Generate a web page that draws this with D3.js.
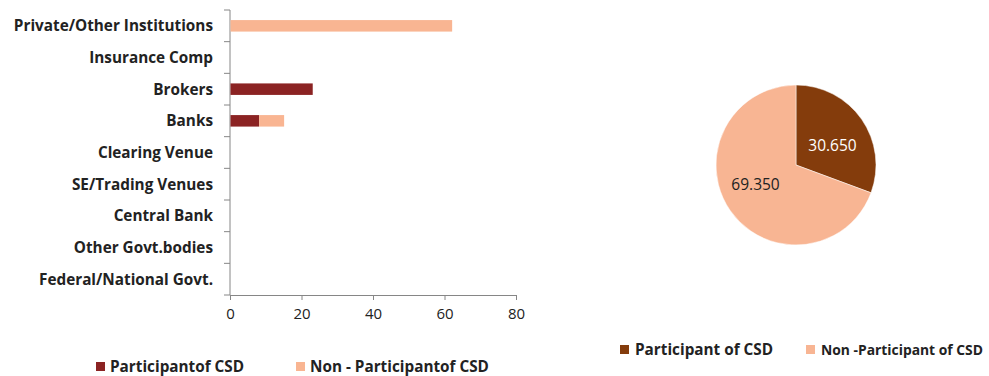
<!DOCTYPE html>
<html><head><meta charset="utf-8">
<script src="https://cdn.jsdelivr.net/npm/d3@7"></script>
<style>body{margin:0;background:#fff}svg{display:block;font-family:"Open Sans",sans-serif}</style>
</head><body><svg id="c" width="989" height="376"></svg>
<script>
const categories = ["Private/Other Institutions","Insurance Comp","Brokers","Banks","Clearing Venue","SE/Trading Venues","Central Bank","Other Govt.bodies","Federal/National Govt."];
const participant = [0,0,23,8,0,0,0,0,0];
const nonParticipant = [62,0,0,7,0,0,0,0,0];
const barSeries = ["Participantof CSD","Non - Participantof CSD"];
const xTicks = [0,20,40,60,80];
const pieLabels = ["Participant of CSD","Non -Participant of CSD"];
const pieValues = [30.65,69.35];

const svg = d3.select("#c");
const barColors = ["#8B2323","#F9B592"];
const pieColors = ["#843C0C","#F8B593"];
const axisCol = "#868686";
const FF = "'Open Sans',sans-serif";

const x = d3.scaleLinear().domain([0,80]).range([230,516]);
const y = d3.scaleBand().domain(categories).range([10,295]);

const g = svg.append("g");
g.append("line").attr("x1",230).attr("x2",230).attr("y1",10).attr("y2",295).attr("stroke",axisCol);
const yEdges = categories.map(c=>y(c)).concat([295]);
g.selectAll(".yt").data(yEdges).join("line").attr("x1",224).attr("x2",230).attr("y1",d=>d).attr("y2",d=>d).attr("stroke",axisCol);
g.selectAll(".yl").data(categories).join("text").attr("x",213).attr("y",d=>y(d)+y.bandwidth()/2).attr("dy","0.35em")
 .attr("text-anchor","end").attr("font-size",15.3).attr("font-weight","bold").attr("fill","#222").text(d=>d);
const xa = g.append("g").attr("transform","translate(0,295)").call(d3.axisBottom(x).tickValues(xTicks).tickSize(5).tickPadding(8));
xa.select(".domain").attr("stroke",axisCol);
xa.selectAll(".tick line").attr("stroke",axisCol);
xa.selectAll(".tick text").attr("font-size",15).attr("fill","#222").attr("font-family",FF);

const bh = 11.5;
const stacked = categories.map((c,i)=>({c,p:participant[i],n:nonParticipant[i]}));
g.selectAll(".bp").data(stacked.filter(d=>d.p>0)).join("rect")
 .attr("x",x(0)+0.5).attr("y",d=>y(d.c)+y.bandwidth()/2-bh/2).attr("width",d=>x(d.p)-x(0)).attr("height",bh).attr("fill",barColors[0]);
g.selectAll(".bn").data(stacked.filter(d=>d.n>0)).join("rect")
 .attr("x",d=>x(d.p)+0.5).attr("y",d=>y(d.c)+y.bandwidth()/2-bh/2).attr("width",d=>x(d.p+d.n)-x(d.p)).attr("height",bh).attr("fill",barColors[1]);

const lx = [96,296];
barSeries.forEach((s,i)=>{
  svg.append("rect").attr("x",lx[i]).attr("y",362).attr("width",9).attr("height",9).attr("fill",barColors[i]);
  svg.append("text").attr("x",lx[i]+14).attr("y",367).attr("dy","0.35em").attr("font-size",15.3).attr("font-weight","bold").attr("fill","#222").text(s);
});

const cx=796, cy=165, r=80;
const pie = d3.pie().sort(null).value(d=>d)(pieValues);
const arc = d3.arc().innerRadius(0).outerRadius(r);
const pg = svg.append("g").attr("transform",`translate(${cx},${cy})`);
pg.selectAll("path").data(pie).join("path").attr("d",arc).attr("fill",(d,i)=>pieColors[i]).attr("stroke","#fff").attr("stroke-width",0.5);
const lArc = d3.arc().innerRadius(42).outerRadius(42);
const off = [[2,5],[-6,-4]];
pg.selectAll(".pl").data(pie).join("text").attr("transform",(d,i)=>{const c=lArc.centroid(d);return `translate(${c[0]+off[i][0]},${c[1]+off[i][1]})`;})
 .attr("text-anchor","middle").attr("dy","0.35em").attr("font-size",15.5).attr("fill",(d,i)=>i==0?"#fff":"#222").text(d=>d.data.toFixed(3));

const plx=[620,806];
const maxW=[140,162];
pieLabels.forEach((s,i)=>{
  svg.append("rect").attr("x",plx[i]).attr("y",345).attr("width",9).attr("height",9).attr("fill",pieColors[i]);
  const t = svg.append("text").attr("x",plx[i]+15).attr("y",350).attr("dy","0.35em").attr("font-size",15.3).attr("font-weight","bold").attr("fill","#222").text(s);
  const w = t.node().getComputedTextLength();
  if (w > maxW[i]) t.attr("font-size", 15.3*maxW[i]/w);
});
</script></body></html>
